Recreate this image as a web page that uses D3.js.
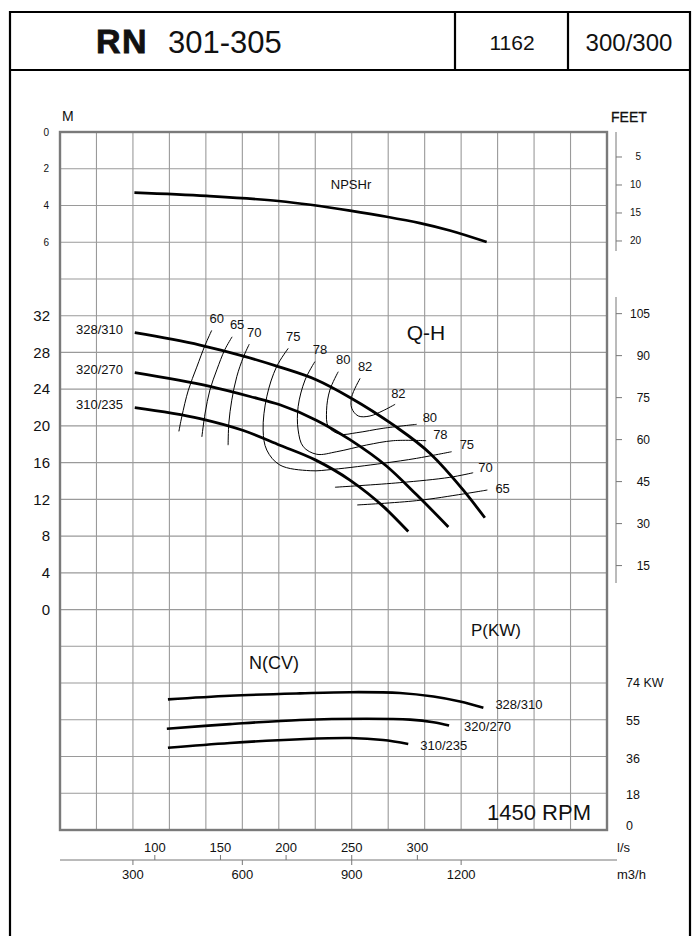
<!DOCTYPE html>
<html><head><meta charset="utf-8">
<script src="https://cdn.jsdelivr.net/npm/d3@7/dist/d3.min.js"></script>
<style>
body{margin:0;background:#fff}
text{font-family:"Liberation Sans",Arial,Helvetica,sans-serif;fill:#111}
</style>
</head><body>
<svg id="c" width="699" height="936"></svg>
<script>
// ---------- DATA ----------
const flowGridM3h   = d3.range(100, 1601, 100);          // vertical grid (m3/h)
const flowTicksLs   = [100, 150, 200, 250, 300];          // l/s axis
const flowTicksM3h  = [300, 600, 900, 1200];              // m3/h axis
const npshTicksM    = [0, 2, 4, 6];
const headTicksM    = [0, 4, 8, 12, 16, 20, 24, 28, 32];
const npshTicksFt   = [5, 10, 15, 20];
const headTicksFt   = [15, 30, 45, 60, 75, 90, 105];
const powerTicksKW  = [0, 18, 36, 55, 74];
const impellers     = ["328/310", "320/270", "310/235"];

// Q (m3/h), H (m)
const headCurve328 = [[305,30.15],[484,28.8],[603,27.6],[703,26.4],[804,25.0],[895,23.1],[1014,20.1],[1115,17.0],[1206,13.0],[1265,10.0]];
const headCurve320 = [[305,25.8],[511,24.3],[621,23.2],[703,22.3],[804,20.6],[895,18.5],[996,15.6],[1078,12.5],[1165,9.0]];
const headCurve310 = [[305,22.0],[484,20.8],[603,19.5],[703,17.9],[800,16.3],[895,14.1],[990,11.1],[1055,8.5]];

// Q (m3/h), P (kW)
const powerCurve328 = [[396,65.8],[566,67.6],[758,68.8],[895,69.4],[1032,69.0],[1124,67.2],[1197,64.7],[1261,61.6]];
const powerCurve320 = [[393,51.0],[566,53.3],[758,55.4],[941,56.0],[1060,55.6],[1124,54.3],[1167,52.6]];
const powerCurve310 = [[396,41.4],[566,43.8],[758,45.7],[895,46.3],[986,45.3],[1055,43.3]];

// Q (m3/h), NPSHr (m)
const npshCurve = [[304,3.30],[502,3.48],[699,3.76],[895,4.28],[996,4.61],[1087,4.96],[1169,5.36],[1270,5.99]];

// iso-efficiency lines: Q (m3/h), H (m)
const eff60  = [[516,30.4],[498,28.8],[475,26.4],[452,23.9],[434,21.0],[426,19.4]];
const eff65  = [[572,29.7],[552,28.3],[530,26.1],[511,23.9],[498,21.4],[489,18.8]];
const eff70  = [[619,28.9],[603,27.5],[585,25.4],[571,22.8],[563,20.3],[561,17.9]];
const eff75  = [[726,28.45],[694,26.45],[667,23.18],[657,19.55],[667,17.37],[703,15.74],[786,15.12],[849,15.27],[986,15.93],[1078,16.47],[1174,17.19]];
const eff78  = [[799,27.0],[772,25.0],[753,22.1],[753,19.55],[767,17.74],[804,16.91],[859,17.19],[941,17.92],[1014,18.39],[1104,18.39]];
const eff80  = [[863,25.9],[840,23.9],[831,21.7],[836,19.9],[868,19.1],[914,19.26],[986,19.74],[1078,20.17]];
const eff82  = [[923,25.18],[900,23.18],[900,21.92],[918,21.08],[950,21.08],[986,21.66],[1019,22.35]];
const eff70b = [[854,13.32],[1032,13.82],[1169,14.4],[1233,14.9]];
const eff65b = [[915,11.39],[1078,11.86],[1206,12.59],[1272,13.02]];
const effValues = [60, 65, 70, 75, 78, 80, 82, 70, 65];

// ---------- LAYOUT ----------
const svg = d3.select("#c");
const X0 = 60, X1 = 607, Y0 = 132, Y1 = 830, NROWS = 19;
const rowH = (Y1 - Y0) / NROWS;
const row = r => Y0 + r * rowH;

const x     = d3.scaleLinear().domain([100, 1600]).range([X0, X1]);
const yHead = d3.scaleLinear().domain([0, 32]).range([row(13), row(5)]);
const yNpsh = d3.scaleLinear().domain([0, 6]).range([row(0), row(3)]);
const yPow  = d3.scaleLinear().domain([0, 74]).range([row(19), row(15)]);
const M_PER_FT = 0.3048;

// ---------- FRAME / HEADER ----------
const frame = svg.append("g").attr("fill","none").attr("stroke","#000").attr("stroke-width",2.2);
frame.append("path").attr("d","M10,940 V12 H690 V940");
frame.append("line").attr("x1",10).attr("x2",690).attr("y1",70).attr("y2",70);
frame.append("line").attr("x1",455).attr("x2",455).attr("y1",12).attr("y2",70);
frame.append("line").attr("x1",568).attr("x2",568).attr("y1",12).attr("y2",70);

const ht = svg.append("text").attr("x",96).attr("y",53).style("font-size","31px");
ht.append("tspan").text("RN").style("font-weight","bold").style("font-size","34px").attr("letter-spacing","1.5")
  .style("stroke","#111").style("stroke-width","0.8");
ht.append("tspan").attr("x",168).text("301-305");
svg.append("text").attr("x",512).attr("y",50).attr("text-anchor","middle").style("font-size","21px").text("1162");
svg.append("text").attr("x",629).attr("y",51).attr("text-anchor","middle").style("font-size","24px").text("300/300");

// ---------- GRID ----------
const grid = svg.append("g").attr("stroke","#9a9a9a").attr("stroke-width",1.1);
grid.selectAll(".v").data(flowGridM3h.slice(1,-1)).join("line")
  .attr("x1",d=>x(d)).attr("x2",d=>x(d)).attr("y1",Y0).attr("y2",Y1);
grid.selectAll(".h").data(d3.range(1,NROWS)).join("line")
  .attr("x1",X0).attr("x2",X1).attr("y1",d=>row(d)).attr("y2",d=>row(d));
svg.append("rect").attr("x",X0).attr("y",Y0).attr("width",X1-X0).attr("height",Y1-Y0)
  .attr("fill","none").attr("stroke","#7a7a7a").attr("stroke-width",2.4);

// ---------- LEFT AXES ----------
svg.append("text").attr("x",62).attr("y",121).style("font-size","14px").text("M");
svg.selectAll(".nl").data(npshTicksM).join("text")
  .attr("x",49).attr("y",d=>yNpsh(d)).attr("dy","0.35em").attr("text-anchor","end")
  .style("font-size","10px").text(d=>d);
svg.selectAll(".hl").data(headTicksM).join("text")
  .attr("x",50).attr("y",d=>yHead(d)).attr("dy","0.35em").attr("text-anchor","end")
  .style("font-size","15px").text(d=>d);

// ---------- RIGHT FEET AXES ----------
svg.append("text").attr("x",611).attr("y",122).style("font-size","14px")
  .style("stroke","#111").style("stroke-width","0.3").text("FEET");
const ax = svg.append("g").attr("stroke","#777").attr("stroke-width",1);
ax.append("line").attr("x1",616).attr("x2",616).attr("y1",Y0).attr("y2",251);
ax.append("line").attr("x1",616).attr("x2",616).attr("y1",297).attr("y2",583);
ax.selectAll(".nt").data(npshTicksFt).join("line")
  .attr("x1",616).attr("x2",622).attr("y1",d=>yNpsh(d*M_PER_FT)-3).attr("y2",d=>yNpsh(d*M_PER_FT)-3);
ax.selectAll(".ht").data(headTicksFt).join("line")
  .attr("x1",616).attr("x2",622).attr("y1",d=>yHead(d*M_PER_FT)-2).attr("y2",d=>yHead(d*M_PER_FT)-2);
svg.selectAll(".nft").data(npshTicksFt).join("text")
  .attr("x",641).attr("y",d=>yNpsh(d*M_PER_FT)-3).attr("dy","0.35em").attr("text-anchor","end")
  .style("font-size","10px").text(d=>d);
svg.selectAll(".hft").data(headTicksFt).join("text")
  .attr("x",650).attr("y",d=>yHead(d*M_PER_FT)-2).attr("dy","0.35em").attr("text-anchor","end")
  .style("font-size","12px").text(d=>d);

// ---------- POWER AXIS ----------
svg.selectAll(".pl").data(powerTicksKW).join("text")
  .attr("x",626).attr("y",d=>yPow(d) - (d===0?4:0)).attr("dy","0.35em")
  .style("font-size","12.5px").text(d=>d===74 ? "74 KW" : d);

// ---------- BOTTOM FLOW AXES ----------
const bx = svg.append("g").attr("stroke","#777").attr("stroke-width",1);
bx.append("line").attr("x1",X0).attr("x2",617).attr("y1",860).attr("y2",860);
bx.selectAll(".lt").data(flowTicksLs).join("line")
  .attr("x1",d=>x(d*3.6)).attr("x2",d=>x(d*3.6)).attr("y1",855).attr("y2",860);
bx.selectAll(".mt").data(flowTicksM3h).join("line")
  .attr("x1",d=>x(d)).attr("x2",d=>x(d)).attr("y1",860).attr("y2",865);
svg.selectAll(".ltl").data(flowTicksLs).join("text")
  .attr("x",d=>x(d*3.6)).attr("y",852).attr("text-anchor","middle").style("font-size","13px").text(d=>d);
svg.selectAll(".mtl").data(flowTicksM3h).join("text")
  .attr("x",d=>x(d)).attr("y",879).attr("text-anchor","middle").style("font-size","13px").text(d=>d);
svg.append("text").attr("x",617).attr("y",852).style("font-size","13px").text("l/s");
svg.append("text").attr("x",617).attr("y",879).style("font-size","13px").text("m3/h");

// ---------- CURVES ----------
const lineH = d3.line().x(d=>x(d[0])).y(d=>yHead(d[1])).curve(d3.curveMonotoneX);
const lineE = d3.line().x(d=>x(d[0])).y(d=>yHead(d[1])).curve(d3.curveCatmullRom.alpha(0.5));
const lineP = d3.line().x(d=>x(d[0])).y(d=>yPow(d[1])).curve(d3.curveCatmullRom.alpha(0.5));
const lineN = d3.line().x(d=>x(d[0])).y(d=>yNpsh(d[1])).curve(d3.curveMonotoneX);

// iso-efficiency (thin)
const effCurves = [eff60, eff65, eff70, eff75, eff78, eff80, eff82, eff70b, eff65b];
svg.append("g").selectAll("path").data(effCurves).join("path")
  .attr("d",lineE).attr("fill","none").attr("stroke","#000").attr("stroke-width",1);

const topLabelIdx = [0,1,2,3,4,5,6];
svg.selectAll(".etl").data(topLabelIdx).join("text")
  .attr("x",i=>x(effCurves[i][0][0])+5).attr("y",i=>yHead(effCurves[i][0][1])-12)
  .attr("dy","0.35em").attr("text-anchor","middle").style("font-size","13px").text(i=>effValues[i]);
const endLabelIdx = [6,5,4,3,7,8];
const endOff = {6:[-4,-11],5:[6,-7],4:[7,-6],3:[8,-7],7:[5,-5],8:[8,-2]};
svg.selectAll(".eel").data(endLabelIdx).join("text")
  .attr("x",i=>{const p=effCurves[i][effCurves[i].length-1]; return x(p[0])+endOff[i][0];})
  .attr("y",i=>{const p=effCurves[i][effCurves[i].length-1]; return yHead(p[1])+endOff[i][1];})
  .attr("dy","0.35em").style("font-size","13px").text(i=>effValues[i]);

// head curves
const headCurves = [headCurve328, headCurve320, headCurve310];
svg.append("g").selectAll("path").data(headCurves).join("path")
  .attr("d",lineH).attr("fill","none").attr("stroke","#000").attr("stroke-width",2.8);
svg.selectAll(".hcl").data(headCurves).join("text")
  .attr("x",123).attr("y",d=>yHead(d[0][1])-3).attr("dy","0.35em").attr("text-anchor","end")
  .style("font-size","13px").text((d,i)=>impellers[i]);

// power curves
const powerCurves = [powerCurve328, powerCurve320, powerCurve310];
svg.append("g").selectAll("path").data(powerCurves).join("path")
  .attr("d",lineP).attr("fill","none").attr("stroke","#000").attr("stroke-width",2.6);
svg.selectAll(".pcl").data(powerCurves).join("text")
  .attr("x",(d,i)=>x(d[d.length-1][0])+(i===1?15:12)).attr("y",(d,i)=>yPow(d[d.length-1][1])+(i===0?-3:1))
  .attr("dy","0.35em").style("font-size","13px").text((d,i)=>impellers[i]);

// NPSH
svg.append("path").attr("d",lineN(npshCurve)).attr("fill","none").attr("stroke","#000").attr("stroke-width",2.6);
svg.append("text").attr("x",351).attr("y",189).attr("text-anchor","middle").style("font-size","13px").text("NPSHr");

// ---------- TITLES ----------
svg.append("text").attr("x",426).attr("y",340).attr("text-anchor","middle").style("font-size","21px").text("Q-H");
svg.append("text").attr("x",496).attr("y",636).attr("text-anchor","middle").style("font-size","17px").text("P(KW)");
svg.append("text").attr("x",274).attr("y",669).attr("text-anchor","middle").style("font-size","18px").text("N(CV)");
svg.append("text").attr("x",539).attr("y",820).attr("text-anchor","middle").style("font-size","22px").text("1450 RPM");
</script>
</body></html>
